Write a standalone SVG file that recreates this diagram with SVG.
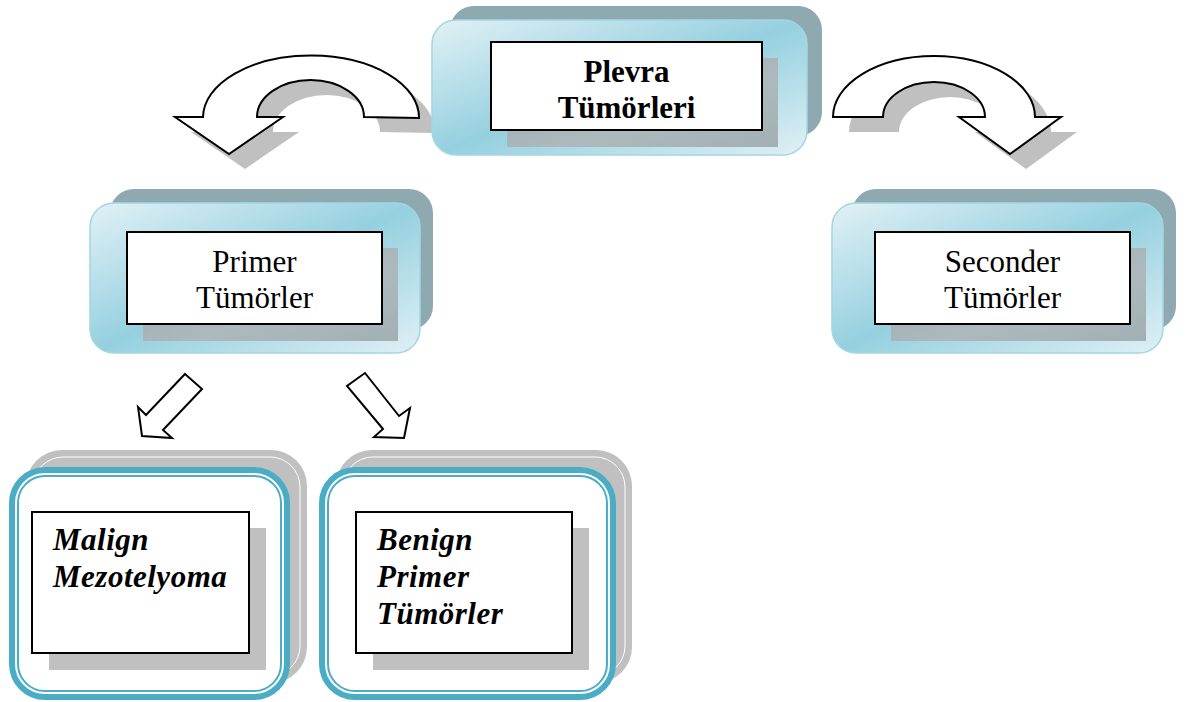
<svg xmlns="http://www.w3.org/2000/svg" width="1187" height="702" viewBox="0 0 1187 702">
  <defs>
    <linearGradient id="paneFill" x1="0" y1="0" x2="1" y2="1">
      <stop offset="0" stop-color="#e2f1f6"/>
      <stop offset="0.5" stop-color="#95d0df"/>
      <stop offset="1" stop-color="#e0f0f5"/>
    </linearGradient>
    <linearGradient id="dropFill" x1="0" y1="0" x2="1" y2="1">
      <stop offset="0" stop-color="#93a5ab"/>
      <stop offset="0.6" stop-color="#adb9bd"/>
      <stop offset="1" stop-color="#a2b0b5"/>
    </linearGradient>
    <style>
      .back { fill: #8fa9b1; }
      .pane { fill: url(#paneFill); stroke: #a3d6e3; stroke-width: 1.5; }
      .drop { fill: url(#dropFill); }
      .card { fill: #ffffff; stroke: #000000; stroke-width: 2; }
      .grey { fill: #c0c0c0; }
      .rim { fill: none; stroke: #ffffff; stroke-width: 1; }
      .frame { fill: #ffffff; stroke: #4bacc6; stroke-width: 6; }
      .frame-in { fill: none; stroke: #4bacc6; stroke-width: 2; }
      .arrow { fill: #ffffff; stroke: #000000; stroke-width: 2; stroke-linejoin: miter; }
      .shade { fill: #c0c0c0; }
      .t { font-family: "Liberation Serif", "Times New Roman", serif; font-size: 31px; fill: #000000; }
      .tb { font-weight: bold; }
      .ti { font-weight: bold; font-style: italic; font-size: 31px; letter-spacing: 0.5px; }
    </style>
  </defs>

  <!-- connectors: curved and straight block arrows -->
  <g id="connectors">
    <path class="shade" transform="translate(16,15)" d="M 419 118 A 108 62 0 0 0 203 117 L 175 117 L 229 154 L 283 117 L 257 117 A 53.5 37 0 0 1 364 117 Z"/>
    <path class="arrow" d="M 419 118 A 108 62 0 0 0 203 117 L 175 117 L 229 154 L 283 117 L 257 117 A 53.5 37 0 0 1 364 117 Z"/>
    <path class="shade" transform="translate(16,15)" d="M 833 117 A 101 61 0 0 1 1035 117 L 1061 117 L 1010 154 L 959 117 L 985 117 A 51 35 0 0 0 883 117 Z"/>
    <path class="arrow" d="M 833 117 A 101 61 0 0 1 1035 117 L 1061 117 L 1010 154 L 959 117 L 985 117 A 51 35 0 0 0 883 117 Z"/>
    <polygon class="arrow" points="185,374 202,389 163,430 172,438 142,436 138,407 146,415"/>
    <polygon class="arrow" points="365,373 399,416 410,408 404,438 374,437 383,429 347,386"/>
  </g>

  <!-- root node -->
  <g id="node-plevra">
    <rect class="back" x="450" y="6" width="372" height="130" rx="24"/>
    <rect class="pane" x="432" y="20" width="375" height="135" rx="24"/>
    <rect class="drop" x="507" y="58" width="271" height="89"/>
    <rect class="card" x="491" y="42" width="271" height="88"/>
    <text class="t tb" text-anchor="middle" x="626.5" y="82">Plevra</text>
    <text class="t tb" text-anchor="middle" x="626.5" y="118">Tümörleri</text>
  </g>

  <g id="node-primer">
    <rect class="back" x="110" y="189" width="323" height="141" rx="24"/>
    <rect class="pane" x="90" y="203" width="330" height="150" rx="24"/>
    <rect class="drop" x="143" y="248" width="255" height="93"/>
    <rect class="card" x="127" y="232" width="255" height="92"/>
    <text class="t" text-anchor="middle" x="254.5" y="272">Primer</text>
    <text class="t" text-anchor="middle" x="254.5" y="308">Tümörler</text>
  </g>

  <g id="node-seconder">
    <rect class="back" x="852" y="189" width="324" height="141" rx="24"/>
    <rect class="pane" x="832" y="203" width="331" height="150" rx="24"/>
    <rect class="drop" x="891" y="248" width="255" height="93"/>
    <rect class="card" x="875" y="232" width="255" height="92"/>
    <text class="t" text-anchor="middle" x="1002.5" y="272">Seconder</text>
    <text class="t" text-anchor="middle" x="1002.5" y="308">Tümörler</text>
  </g>

  <g id="node-malign">
    <rect class="grey" x="26" y="450" width="281" height="233" rx="36"/>
    <rect class="rim" x="33" y="457" width="267" height="219" rx="30"/>
    <rect class="frame" x="12" y="470" width="275" height="227" rx="33"/>
    <rect class="frame-in" x="18" y="476" width="263" height="215" rx="27"/>
    <rect class="grey" x="49" y="528" width="217" height="142"/>
    <rect class="card" x="32" y="512" width="217" height="141"/>
    <text class="t ti" x="53" y="550">Malign</text>
    <text class="t ti" x="53" y="587">Mezotelyoma</text>
  </g>

  <g id="node-benign">
    <rect class="grey" x="336" y="450" width="296" height="233" rx="36"/>
    <rect class="rim" x="343" y="457" width="282" height="219" rx="30"/>
    <rect class="frame" x="322" y="470" width="291" height="227" rx="33"/>
    <rect class="frame-in" x="328" y="476" width="279" height="215" rx="27"/>
    <rect class="grey" x="373" y="528" width="216" height="142"/>
    <rect class="card" x="356" y="512" width="216" height="141"/>
    <text class="t ti" x="377" y="550">Benign</text>
    <text class="t ti" x="377" y="587">Primer</text>
    <text class="t ti" x="377" y="624">Tümörler</text>
  </g>
</svg>
